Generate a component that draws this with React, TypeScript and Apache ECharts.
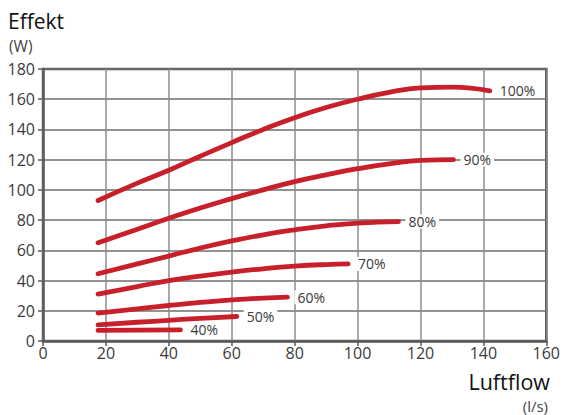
import React, { useEffect, useRef } from "react";
import * as echarts from "echarts";

const seriesNames = ["100%", "90%", "80%", "70%", "60%", "50%", "40%"];

const s100: number[][] = [[17.5, 93], [30, 104.5], [40, 113], [50, 122.3], [60, 131.3], [70, 140], [80, 147.8], [90, 154.5], [100, 160], [110, 164.5], [120, 167.5], [130, 168], [142, 165.5]];
const s90: number[][] = [[17.5, 65], [30, 74], [40, 81.2], [50, 88], [60, 94.2], [70, 100], [80, 105.5], [90, 110], [100, 114], [110, 117.2], [120, 119.5], [130.5, 120]];
const s80: number[][] = [[17.5, 44.5], [30, 51], [40, 56.2], [50, 61.5], [60, 66.2], [70, 70.3], [80, 73.6], [90, 76.2], [100, 78], [113, 79]];
const s70: number[][] = [[17.5, 31], [30, 36], [40, 40], [50, 43], [60, 45.6], [70, 47.8], [80, 49.5], [90, 50.6], [97, 51]];
const s60: number[][] = [[17.5, 18.5], [30, 21.3], [40, 23.5], [50, 25.5], [60, 27.2], [70, 28.4], [77.7, 29]];
const s50: number[][] = [[17.5, 10.7], [30, 12.4], [40, 13.7], [50, 15], [61.6, 16.2]];
const s40: number[][] = [[17.5, 7], [30, 7.2], [43.7, 7.3]];

const allSeries = [s100, s90, s80, s70, s60, s50, s40];

const xTicks = { min: 0, max: 160, interval: 20 };
const yTicks = { min: 0, max: 180, interval: 20 };

const FONT = "Open Sans";

export default function App() {
  const ref = useRef<HTMLDivElement>(null);
  useEffect(() => {
    if (!ref.current) return;
    const chart = echarts.init(ref.current, undefined, { renderer: "svg" });
    chart.setOption({
      animation: false,
      textStyle: { fontFamily: FONT },
      grid: {
        left: 43,
        right: 15,
        top: 69,
        bottom: 74,
        show: true,
        borderColor: "#5a5a5a",
        borderWidth: 2.5,
        backgroundColor: "transparent",
      },
      xAxis: {
        type: "value",
        min: xTicks.min,
        max: xTicks.max,
        interval: xTicks.interval,
        axisLine: { show: true, lineStyle: { color: "#5a5a5a", width: 2.5 } },
        axisTick: { show: true, length: 5, lineStyle: { color: "#5a5a5a", width: 1.5 } },
        axisLabel: { color: "#3a3a3a", fontSize: 16, margin: 4, fontFamily: FONT },
        splitLine: { show: true, lineStyle: { color: "#8c8c8c", width: 1.5 } },
      },
      yAxis: {
        type: "value",
        min: yTicks.min,
        max: yTicks.max,
        interval: yTicks.interval,
        axisLine: { show: true, lineStyle: { color: "#5a5a5a", width: 2.5 } },
        axisTick: { show: true, length: 5, lineStyle: { color: "#5a5a5a", width: 1.5 } },
        axisLabel: { color: "#3a3a3a", fontSize: 16, margin: 8, fontFamily: FONT },
        splitLine: { show: true, lineStyle: { color: "#6e6e6e", width: 1.5 } },
      },
      graphic: [
        { type: "text", left: 8, top: 10, style: { text: "Effekt", fontSize: 21, lineHeight: 22, fill: "#111", fontFamily: FONT } },
        { type: "text", left: 9, top: 38, style: { text: "(W)", fontSize: 15.5, lineHeight: 16, fill: "#444", fontFamily: FONT } },
        { type: "text", right: 13, top: 370, style: { text: "Luftflow", fontSize: 21.5, lineHeight: 22, fill: "#111", fontFamily: FONT } },
        { type: "text", right: 15, top: 398, style: { text: "(l/s)", fontSize: 15, lineHeight: 15, fill: "#444", fontFamily: FONT } },
      ],
      series: allSeries.map((d, i) => ({
        type: "line",
        name: seriesNames[i],
        data: d,
        smooth: 0.5,
        symbol: "none",
        lineStyle: { color: "#c8202a", width: 4.8, cap: "round" },
        endLabel: {
          show: true,
          formatter: seriesNames[i],
          color: "#3a3a3a",
          fontSize: 14,
          fontFamily: FONT,
          distance: 7,
          backgroundColor: "#ffffff",
          padding: [0, 3],
        },
      })),
    });
    return () => chart.dispose();
  }, []);
  return <div ref={ref} style={{ width: 563, height: 415, position: "absolute", left: 0, top: 0 }} />;
}
